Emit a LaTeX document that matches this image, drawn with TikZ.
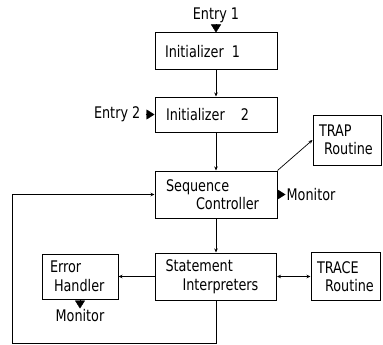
\documentclass[tikz,border=0pt]{standalone}
\usepackage{fontspec}
\setmainfont[FakeStretch=0.8]{DejaVu Sans}
\usepackage{tikz}
\usetikzlibrary{positioning, arrows.meta}
\usepackage{xcolor}

\begin{document}
\begin{tikzpicture}[x=1pt, y=-1pt, font=\fontsize{16}{18.5}\selectfont,
    block/.style={draw, line width=1pt, inner ysep=0pt, align=left},
    flow/.style={line width=0.7pt, -{Stealth[length=4pt, width=3.5pt]}},
    pointer/.style={-{Triangle[length=8pt, width=10pt]}},
    note/.style={inner sep=1pt}]
\useasboundingbox (0,0) rectangle (383,345);

\node[block, inner xsep=10pt, text width=102pt, minimum height=37pt] (init1) at (216,51.5) {Initializer\enspace 1};
\node[block, inner xsep=11pt, text width=100pt, minimum height=35pt] (init2) at (216,114.5) {Initializer\quad 2};
\node[block, inner xsep=11pt, text width=100pt, minimum height=47pt] (seq) at (216,194.5) {Sequence\\\hspace*{30pt}Controller};
\node[block, inner xsep=10pt, text width=101pt, minimum height=47pt] (stmt) at (216,276.5) {Statement\\\hspace*{17pt}Interpreters};
\node[block, inner xsep=8pt, text width=60pt, minimum height=45pt] (err) at (80,276.5) {Error\\\hspace*{4pt}Handler};
\node[block, inner xsep=6pt, text width=56pt, minimum height=50pt] (trap) at (347,140) {TRAP\\\hspace*{5pt}\mbox{Routine}};
\node[block, inner xsep=6pt, text width=57pt, minimum height=48pt] (trace) at (345.5,276.5) {TRACE\\\hspace*{8pt}\mbox{Routine}};

\node[note, above=8pt of init1] (entry1) {Entry 1};
\draw[pointer] (entry1) -- (init1);
\node[note, left=13pt of init2] (entry2) {Entry 2};
\coordinate (e2) at ([xshift=-9pt]init2.west);
\draw[pointer] (e2) -- (init2.west);

\coordinate (m1) at ([xshift=8pt]seq.east);
\draw[pointer] (seq.east) -- (m1);
\node[note, right=0pt of m1] (mon1) {Monitor};
\coordinate (m2) at ([yshift=-9pt]err.south);
\draw[pointer] (err.south) -- (m2);
\node[note, below=0pt of m2] (mon2) {Monitor};

\draw[flow] (init1) -- (init2);
\draw[flow] (init2) -- (seq);
\draw[flow] (seq) -- (stmt);
\draw[flow] (seq.north east) -- (trap.west);
\draw[flow] (stmt) -- (err);
\draw[flow, {Stealth[length=4pt, width=3.5pt]}-{Stealth[length=4pt, width=3.5pt]}] (stmt) -- (trace);
\coordinate (loop) at (12,343);
\draw[flow] (stmt.south) |- (loop) |- (seq.west);
\end{tikzpicture}
\end{document}
